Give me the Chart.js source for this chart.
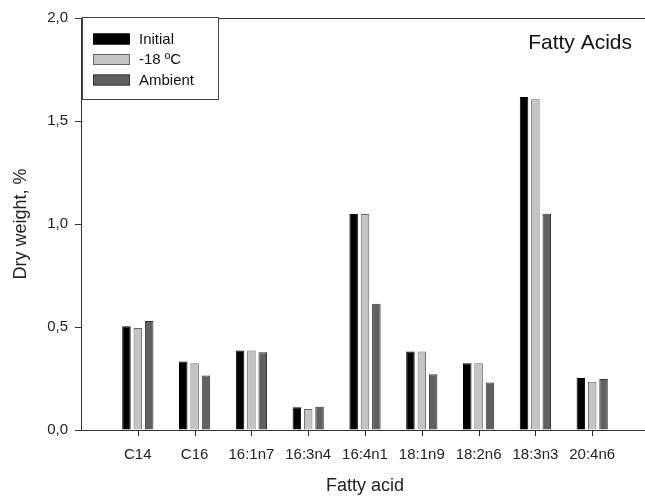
<!DOCTYPE html>
<html>
<head>
<meta charset="utf-8">
<script src="https://cdn.jsdelivr.net/npm/chart.js@4/dist/chart.umd.min.js"></script>
<style>
html,body{margin:0;padding:0;background:#fff;overflow:hidden;width:645px;height:497px;}
#wrap{width:657px;height:497px;}
</style>
</head>
<body>
<div id="wrap"><canvas id="c" width="657" height="497"></canvas></div>
<script>
const categories = ['C14','C16','16:1n7','16:3n4','16:4n1','18:1n9','18:2n6','18:3n3','20:4n6'];
const initialValues = [0.504,0.333,0.386,0.110,1.048,0.381,0.324,1.616,0.253];
const frozenValues  = [0.495,0.324,0.386,0.102,1.048,0.381,0.324,1.605,0.234];
const ambientValues = [0.529,0.264,0.378,0.113,0.613,0.271,0.230,1.050,0.248];
const seriesNames = ['Initial','-18 ºC','Ambient'];
const yTicks = [0,0.5,1.0,1.5,2.0];

const labels = [''].concat(categories, ['']);
const pad = arr => [null].concat(arr, [null]);

const FONT = "'Liberation Sans', Arial, sans-serif";
const AX = '#333';

const decor = {
  id: 'decor',
  afterDraw(chart) {
    const ctx = chart.ctx, a = chart.chartArea, xs = chart.scales.x;
    ctx.save();
    ctx.strokeStyle = AX; ctx.lineWidth = 1;
    // top and right frame
    ctx.beginPath(); ctx.moveTo(a.left, a.top + 0.5); ctx.lineTo(a.right, a.top + 0.5); ctx.stroke();
    ctx.beginPath(); ctx.moveTo(a.right - 0.5, a.top); ctx.lineTo(a.right - 0.5, a.bottom); ctx.stroke();
    // x tick marks at the category centres
    ctx.fillStyle = '#222';
    categories.forEach((c, i) => {
      const px = Math.round(xs.getPixelForValue(i + 1));
      ctx.fillRect(px, a.bottom, 1, 6);
    });
    // legend
    const x0 = a.left + 1, y0 = a.top - 1, w = 136, h = 82;
    ctx.fillStyle = '#fff';
    ctx.fillRect(x0, y0, w, h);
    ctx.strokeStyle = '#444';
    ctx.strokeRect(x0 + 0.5, y0 + 0.5, w, h);
    ctx.font = '15px ' + FONT;
    ctx.textBaseline = 'middle';
    chart.data.datasets.forEach((ds, i) => {
      const cy = y0 + 22 + i * 20.5;
      ctx.fillStyle = ds.backgroundColor;
      ctx.fillRect(x0 + 11, cy - 5.5, 37, 11);
      ctx.strokeStyle = ds.borderColor;
      ctx.strokeRect(x0 + 11.5, cy - 5, 36, 10);
      ctx.fillStyle = '#111';
      ctx.fillText(ds.label, x0 + 57, cy + 0.5);
    });
    // panel title
    ctx.font = '21px ' + FONT;
    ctx.textAlign = 'right';
    ctx.fillStyle = '#111';
    ctx.fillText('Fatty Acids', 632, 43);
    ctx.restore();
  }
};

new Chart(document.getElementById('c'), {
  type: 'bar',
  data: {
    labels: labels,
    datasets: [
      {label: seriesNames[0], data: pad(initialValues), backgroundColor: '#000000', borderColor: '#000000', borderWidth: 1},
      {label: seriesNames[1], data: pad(frozenValues), backgroundColor: '#c4c4c4', borderColor: '#666666', borderWidth: 1},
      {label: seriesNames[2], data: pad(ambientValues), backgroundColor: '#606060', borderColor: '#333333', borderWidth: 1}
    ]
  },
  options: {
    responsive: false,
    animation: false,
    devicePixelRatio: 1,
    layout: {padding: {left: 0, top: 18, right: 2, bottom: 0}},
    datasets: {bar: {categoryPercentage: 0.6, barPercentage: 0.75}},
    plugins: {legend: {display: false}, tooltip: {enabled: false}},
    scales: {
      x: {
        offset: false,
        grid: {display: false},
        border: {display: true, color: AX, width: 1},
        ticks: {autoSkip: false, maxRotation: 0, padding: 8, color: '#222', font: {family: FONT, size: 15}},
        title: {display: true, text: 'Fatty acid', color: '#222', font: {family: FONT, size: 18}, padding: {top: 4, bottom: 0}},
        afterFit: s => { s.height = 67; }
      },
      y: {
        min: 0, max: 2,
        afterBuildTicks: s => { s.ticks = yTicks.map(v => ({value: v})); },
        grid: {drawOnChartArea: false, drawTicks: true, tickLength: 6, tickColor: AX},
        border: {display: true, color: AX, width: 1},
        ticks: {padding: 7, color: '#222', font: {family: FONT, size: 15},
                callback: v => v.toFixed(1).replace('.', ',')},
        title: {display: true, text: 'Dry weight, %', color: '#222', font: {family: FONT, size: 18}, padding: {top: 10, bottom: 0}},
        afterFit: s => { s.width = 81; }
      }
    }
  },
  plugins: [decor]
});
</script>
</body>
</html>
